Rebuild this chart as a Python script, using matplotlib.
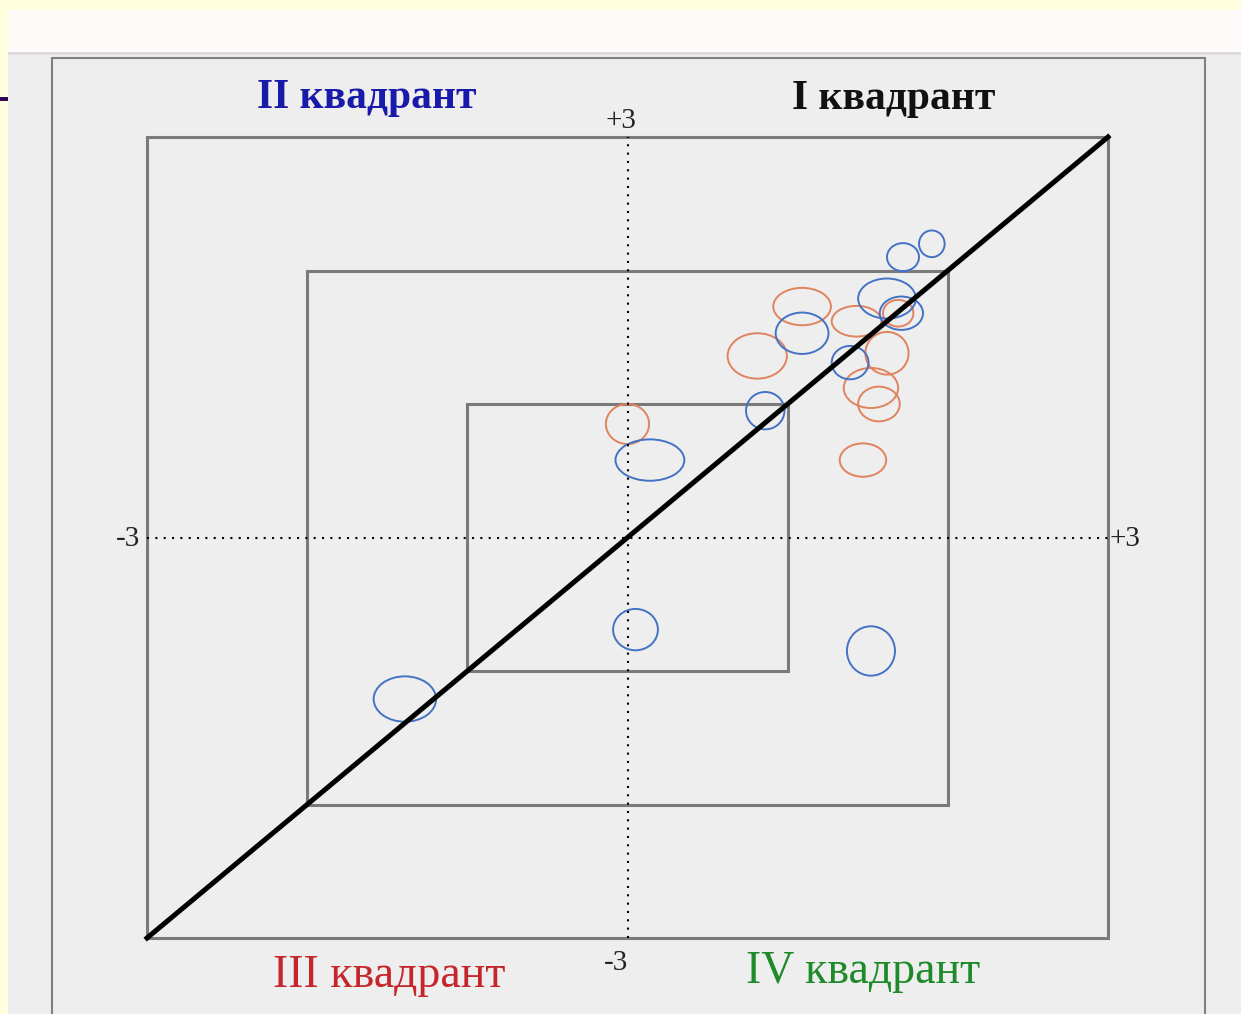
import matplotlib.pyplot as plt
from matplotlib.patches import Ellipse, Rectangle

# blue bubbles: centre x, centre y, width, height (data units)
blue_x = [1.90, 1.72, 1.62, 1.71, 1.09, 1.39, 0.86, 0.14, 0.05, 1.52, -1.39]
blue_y = [2.20, 2.10, 1.79, 1.68, 1.53, 1.31, 0.95, 0.58, -0.69, -0.85, -1.21]
blue_w = [0.16, 0.20, 0.36, 0.27, 0.33, 0.23, 0.24, 0.43, 0.28, 0.30, 0.39]
blue_h = [0.20, 0.21, 0.30, 0.25, 0.31, 0.25, 0.28, 0.31, 0.31, 0.37, 0.34]

# orange bubbles
orange_x = [1.09, 0.81, 1.43, 1.69, 1.62, 1.52, 1.57, 1.47, 0.00]
orange_y = [1.73, 1.36, 1.62, 1.68, 1.38, 1.12, 1.00, 0.58, 0.85]
orange_w = [0.36, 0.37, 0.31, 0.19, 0.27, 0.34, 0.26, 0.29, 0.27]
orange_h = [0.28, 0.34, 0.23, 0.20, 0.32, 0.30, 0.26, 0.25, 0.30]

squares = [3, 2, 1]

W, H = 1241, 1014
fig = plt.figure(figsize=(W / 100, H / 100), dpi=100, facecolor='#FFFFE0')


def box(x0, y0, x1, y1, **kw):
    # rectangle given in pixels from the top left corner
    fig.patches.append(Rectangle((x0 / W, 1 - y1 / H), (x1 - x0) / W, (y1 - y0) / H,
                                 transform=fig.transFigure, zorder=-5, **kw))


box(8, 10, W, 52, facecolor='#FFFAFA', edgecolor='none')
box(8, 52, W, 55, facecolor='#DCDCDC', edgecolor='none')
box(8, 55, W, H, facecolor='#EEEEEE', edgecolor='none')
box(52, 58, 1205, H + 10, facecolor='none', edgecolor='#808080', linewidth=1.5)
box(0, 97, 8, 101, facecolor='#2E0854', edgecolor='none')

ax = fig.add_axes([147 / W, 76 / H, 961 / W, 801 / H])
ax.set_xlim(-3, 3)
ax.set_ylim(-3, 3)
ax.axis('off')

for s in squares:
    ax.add_patch(Rectangle((-s, -s), 2 * s, 2 * s, facecolor='none',
                           edgecolor='#7A7A7A', linewidth=2.2, clip_on=False))

ax.plot([-3, 3], [0, 0], color='black', linestyle=(0, (1, 3)), linewidth=1.5, clip_on=False)
ax.plot([0, 0], [-3, 3], color='black', linestyle=(0, (1, 3)), linewidth=1.5, clip_on=False)

for x, y, w, h in zip(orange_x, orange_y, orange_w, orange_h):
    ax.add_patch(Ellipse((x, y), w, h, facecolor='none', edgecolor='#E0835F', linewidth=1.4))
for x, y, w, h in zip(blue_x, blue_y, blue_w, blue_h):
    ax.add_patch(Ellipse((x, y), w, h, facecolor='none', edgecolor='#4472C4', linewidth=1.4))

ax.plot([-3, 3], [-3, 3], color='black', linewidth=3.6, clip_on=False)

serif = 'Liberation Serif'
tick_kw = dict(fontsize=21, family=serif, color='#222222', va='baseline')
ax.text(-0.04, 3.064, '+3', ha='center', **tick_kw)
ax.text(-0.07, -3.243, '-3', ha='center', **tick_kw)
ax.text(-3.04, -0.06, '-3', ha='right', **tick_kw)
ax.text(3.01, -0.06, '+3', ha='left', **tick_kw)

ax.text(-1.63, 3.22, 'II квадрант', ha='center', va='baseline', fontsize=30,
        fontweight='bold', family=serif, color='#1A1AAA')
ax.text(1.66, 3.21, 'I квадрант', ha='center', va='baseline', fontsize=30,
        fontweight='bold', family=serif, color='#111111')
ax.text(-1.49, -3.37, 'III квадрант', ha='center', va='baseline', fontsize=33,
        family=serif, color='#C4262C')
ax.text(1.47, -3.34, 'IV квадрант', ha='center', va='baseline', fontsize=33,
        family=serif, color='#1F8A2A')

fig.savefig('out.png', dpi=100, facecolor=fig.get_facecolor())
